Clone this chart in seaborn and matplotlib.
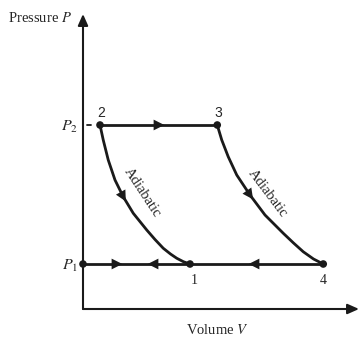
import numpy as np
import pandas as pd
import matplotlib
matplotlib.use("Agg")
import matplotlib.pyplot as plt
from matplotlib.markers import MarkerStyle
from matplotlib.transforms import Affine2D
import seaborn as sns

# ---- data (arbitrary V, P units) ----
state_labels = ["1", "2", "3", "4"]
state_V = [4.28, 0.68, 5.37, 9.61]
state_P = [1.80, 7.36, 7.36, 1.80]

# adiabatic 2 -> 1
adi21_V = [0.68, 0.81, 1.01, 1.28, 1.61, 2.01, 2.55, 2.88, 3.21, 3.50, 3.75, 4.02, 4.28]
adi21_P = [7.36, 6.76, 5.96, 5.16, 4.49, 3.83, 3.16, 2.78, 2.43, 2.20, 2.03, 1.89, 1.80]
# adiabatic 3 -> 4
adi34_V = [5.37, 5.55, 5.81, 6.15, 6.68, 7.28, 8.01, 8.41, 8.81, 9.22, 9.61]
adi34_P = [7.36, 6.76, 6.09, 5.36, 4.56, 3.76, 3.03, 2.65, 2.29, 2.00, 1.80]

# direction arrows: position and direction angle (deg)
arrow_V = [3.04, 1.36, 2.80, 6.84, 1.61, 6.68]
arrow_P = [7.36, 1.80, 1.80, 1.80, 4.49, 4.56]
arrow_ang = [0, 0, 180, 180, -61, -55]

sns.set_theme(style="white")
plt.rcParams["font.family"] = ["Liberation Serif", "DejaVu Serif"]
plt.rcParams["mathtext.fontset"] = "stix"

fig = plt.figure(figsize=(3.59, 3.38), dpi=100)
ax = fig.add_axes([83 / 359, 29 / 338, 276 / 359, 309 / 338])
ax.set_xlim(0, 276 / 25)
ax.set_ylim(0, 309 / 25)
for s in ax.spines.values():
    s.set_visible(False)
ax.set_xticks([])
ax.set_yticks([])

lw = 2.0
# axes with arrows
ap = dict(arrowstyle="-|>,head_length=0.45,head_width=0.2", lw=1.5, color="k",
          mutation_scale=15, shrinkA=0, shrinkB=0)
ax.annotate("", xy=(0, 11.8), xytext=(0, 0), arrowprops=ap, annotation_clip=False)
ax.annotate("", xy=(11.04, 0), xytext=(0, 0), arrowprops=ap, annotation_clip=False)

# isobars
top = pd.DataFrame({"V": [state_V[1], state_V[2]], "P": [state_P[1], state_P[2]]})
bot = pd.DataFrame({"V": [0, state_V[3]], "P": [state_P[0], state_P[3]]})
sns.lineplot(data=top, x="V", y="P", color="k", lw=lw, sort=False, ax=ax)
sns.lineplot(data=bot, x="V", y="P", color="k", lw=lw, sort=False, ax=ax)
sns.lineplot(x=adi21_V, y=adi21_P, color="k", lw=lw, sort=False, ax=ax)
sns.lineplot(x=adi34_V, y=adi34_P, color="k", lw=lw, sort=False, ax=ax)

# tick at P2
ax.plot([0.16, 0.32], [state_P[1], state_P[1]], color="k", lw=1.3, clip_on=False)

# state points
sns.scatterplot(x=state_V + [0], y=state_P + [state_P[0]], color="k", s=30,
                edgecolor="none", ax=ax, clip_on=False, zorder=5)

# direction arrows
for v, p, a in zip(arrow_V, arrow_P, arrow_ang):
    m = MarkerStyle(">", transform=Affine2D().rotate_deg(a))
    ax.scatter([v], [p], marker=m, s=60, color="k", edgecolors="none", zorder=6)

# labels
ax.text(-0.44, 11.64, r"Pressure $P$", ha="right", va="center", fontsize=10.5,
        clip_on=False)
ax.text(5.38, -0.84, r"Volume $V$", ha="center", va="center", fontsize=10.5,
        clip_on=False)
ax.text(-0.2, 7.30, r"$P_2$", ha="right", va="center", fontsize=11.5, clip_on=False)
ax.text(-0.2, 1.72, r"$P_1$", ha="right", va="center", fontsize=11.5, clip_on=False)

num_pos = {"1": (4.44, 1.12), "2": (0.72, 7.84), "3": (5.40, 7.84), "4": (9.60, 1.12)}
for lab in state_labels:
    x, y = num_pos[lab]
    fam = "Liberation Sans" if lab in ("2", "3") else "Liberation Serif"
    ax.text(x, y, lab, ha="center", va="center", fontsize=10, family=fam)

ax.text(2.38, 4.64, "Adiabatic", rotation=-56.6, rotation_mode="anchor",
        ha="center", va="center", fontsize=10.5)
ax.text(7.38, 4.64, "Adiabatic", rotation=-53, rotation_mode="anchor",
        ha="center", va="center", fontsize=10.5)

fig.savefig("out.png", dpi=100)
